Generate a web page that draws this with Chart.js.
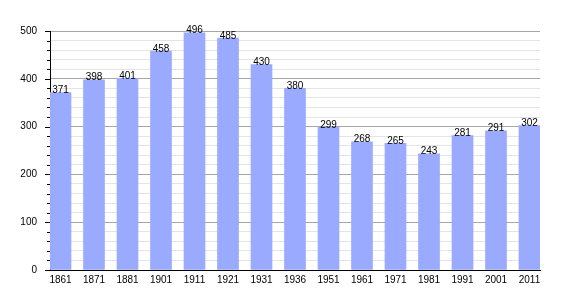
<!DOCTYPE html>
<html>
<head>
<meta charset="utf-8">
<script src="https://cdn.jsdelivr.net/npm/chart.js@4/dist/chart.umd.min.js"></script>
<style>
html,body{margin:0;padding:0;background:#fff;}
#wrap{width:570px;height:300px;position:relative;}
</style>
</head>
<body>
<div id="wrap"><canvas id="c" width="570" height="300"></canvas></div>
<script>
const years = ["1861","1871","1881","1901","1911","1921","1931","1936","1951","1961","1971","1981","1991","2001","2011"];
const population = [371,398,401,458,496,485,430,380,299,268,265,243,281,291,302];
const yTicks = [0,100,200,300,400,500];

const FONT = "'Liberation Sans', Arial, sans-serif";
const edgePad = 10.5 / 33.5;

const tickMarks = {
  id: 'tickMarks',
  afterDraw(chart) {
    const y = chart.scales.y;
    const ctx = chart.ctx;
    ctx.save();
    ctx.strokeStyle = '#000';
    ctx.lineWidth = 1;
    for (let v = 0; v <= 500; v += 20) {
      const p = Math.round(y.getPixelForValue(v)) + 0.5;
      const len = v % 100 === 0 ? 5 : 3;
      ctx.beginPath();
      ctx.moveTo(y.right - len, p);
      ctx.lineTo(y.right, p);
      ctx.stroke();
    }
    ctx.restore();
  }
};

const valueLabels = {
  id: 'valueLabels',
  afterDatasetsDraw(chart) {
    const ctx = chart.ctx;
    const meta = chart.getDatasetMeta(0);
    ctx.save();
    ctx.font = "10px " + FONT;
    ctx.fillStyle = '#000';
    ctx.textAlign = 'center';
    ctx.textBaseline = 'alphabetic';
    meta.data.forEach((bar, i) => {
      ctx.fillText(String(population[i]), bar.x, bar.y + 0.5);
    });
    ctx.restore();
  }
};

new Chart(document.getElementById('c'), {
  type: 'bar',
  data: {
    datasets: [{
      data: population.map((v, i) => ({x: i, y: v})),
      backgroundColor: '#99aaff',
      borderWidth: 0,
      barThickness: 21
    }]
  },
  options: {
    responsive: false,
    animation: false,
    events: [],
    layout: {padding: {top: 31, right: 30, left: 0, bottom: 0}},
    plugins: {legend: {display: false}, tooltip: {enabled: false}},
    scales: {
      x: {
        type: 'linear',
        offset: false,
        min: -edgePad,
        max: years.length - 1 + edgePad,
        afterBuildTicks(scale) { scale.ticks = years.map((_, i) => ({value: i})); },
        afterFit(scale) { scale.height = 30; },
        grid: {display: false, drawTicks: false},
        border: {display: true, color: '#000', width: 1},
        ticks: {
          autoSkip: false,
          maxRotation: 0,
          padding: 4,
          color: '#000',
          font: {family: FONT, size: 10},
          callback: (v) => years[v]
        }
      },
      y: {
        min: 0,
        max: 500,
        afterBuildTicks(scale) {
          const t = [];
          for (let v = 0; v <= 500; v += 20) t.push({value: v});
          scale.ticks = t;
        },
        afterFit(scale) { scale.width = 50; },
        grid: {
          drawTicks: false,
          color: (c) => (c.tick && c.tick.value % 100 === 0) ? '#a6a6a6' : '#e4e4e4',
          lineWidth: 1
        },
        border: {display: true, color: '#000', width: 1},
        ticks: {
          autoSkip: false,
          padding: 13,
          color: '#000',
          font: {family: FONT, size: 10},
          callback: (v) => yTicks.includes(v) ? String(v) : ''
        }
      }
    }
  },
  plugins: [tickMarks, valueLabels]
});
</script>
</body>
</html>
